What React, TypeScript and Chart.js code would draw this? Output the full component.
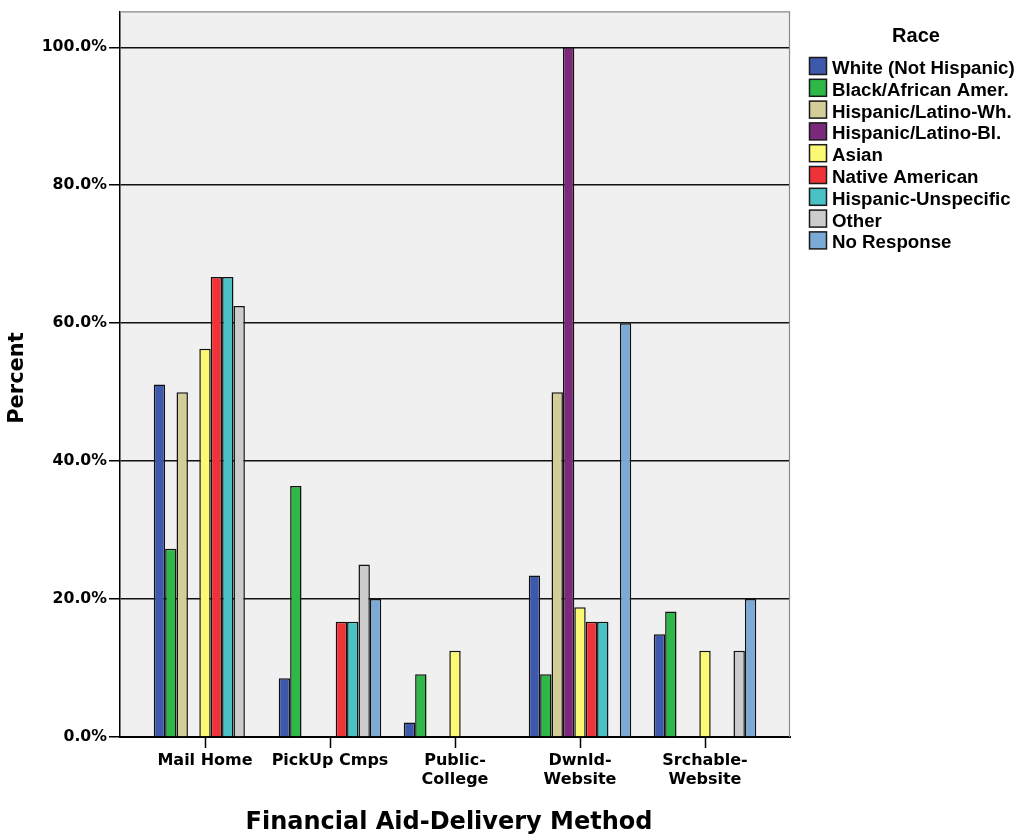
import React, { useEffect, useRef } from 'react';
import { Chart, registerables } from 'chart.js';

Chart.register(...registerables);

// ---- Data ----
const categories: (string | string[])[] = [
  'Mail Home',
  'PickUp Cmps',
  ['Public-', 'College'],
  ['Dwnld-', 'Website'],
  ['Srchable-', 'Website'],
];

const raceLabels = [
  'White (Not Hispanic)',
  'Black/African Amer.',
  'Hispanic/Latino-Wh.',
  'Hispanic/Latino-Bl.',
  'Asian',
  'Native American',
  'Hispanic-Unspecific',
  'Other',
  'No Response',
];

const raceColors = [
  '#3e58ac',
  '#2eb848',
  '#d3ce97',
  '#7b2a7b',
  '#fbf873',
  '#ef3338',
  '#48c2c5',
  '#cccccc',
  '#7caad6',
];

const white = [51.1, 8.5, 2.1, 23.4, 14.9];
const blackAfr = [27.3, 36.4, 9.1, 9.1, 18.2];
const hispWh = [50.0, 0, 0, 50.0, 0];
const hispBl = [0, 0, 0, 100.0, 0];
const asian = [56.3, 0, 12.5, 18.8, 12.5];
const nativeAm = [66.7, 16.7, 0, 16.7, 0];
const hispUnspec = [66.7, 16.7, 0, 16.7, 0];
const other = [62.5, 25.0, 0, 0, 12.5];
const noResponse = [0, 20.0, 0, 60.0, 20.0];

const seriesValues = [white, blackAfr, hispWh, hispBl, asian, nativeAm, hispUnspec, other, noResponse];

const yTicks = [0, 20, 40, 60, 80, 100];

const yTitle = 'Percent';
const xTitle = 'Financial Aid-Delivery Method';
const legendTitle = 'Race';

const AXIS_FONT = '"DejaVu Sans", sans-serif';
const LEGEND_FONT = '"Liberation Sans", Arial, sans-serif';

const decorPlugin = {
  id: 'decor',
  beforeDraw(chart: any) {
    const { ctx, chartArea: a } = chart;
    ctx.save();
    ctx.fillStyle = '#f0f0f0';
    ctx.fillRect(a.left, a.top, a.right - a.left, a.bottom - a.top);
    ctx.restore();
  },
  afterDraw(chart: any) {
    const { ctx, chartArea: a } = chart;
    ctx.save();
    // frame: top and right in gray
    ctx.strokeStyle = '#8a8a8a';
    ctx.lineWidth = 1.2;
    ctx.beginPath();
    ctx.moveTo(a.left, a.top + 0.5);
    ctx.lineTo(a.right - 0.5, a.top + 0.5);
    ctx.lineTo(a.right - 0.5, a.bottom);
    ctx.stroke();

    // y title
    ctx.fillStyle = '#000';
    ctx.font = `bold 21px ${AXIS_FONT}`;
    ctx.textAlign = 'center';
    ctx.textBaseline = 'middle';
    ctx.save();
    ctx.translate(18, 378);
    ctx.rotate(-Math.PI / 2);
    ctx.fillText(yTitle, 0, 0);
    ctx.restore();

    // x title
    ctx.font = `bold 24px ${AXIS_FONT}`;
    ctx.textBaseline = 'alphabetic';
    ctx.fillText(xTitle, 449, 829);

    // legend
    ctx.font = `bold 20px ${LEGEND_FONT}`;
    ctx.textAlign = 'center';
    ctx.fillText(legendTitle, 916, 42);
    ctx.textAlign = 'left';
    ctx.font = `bold 18.7px ${LEGEND_FONT}`;
    const step = 21.8;
    raceLabels.forEach((lab, i) => {
      const top = 57.5 + i * step;
      ctx.fillStyle = raceColors[i];
      ctx.fillRect(809.5, top, 17, 17);
      ctx.strokeStyle = '#1a1a1a';
      ctx.lineWidth = 1.5;
      ctx.strokeRect(809.5, top, 17, 17);
      ctx.fillStyle = '#000';
      ctx.fillText(lab, 832, top + 16.5);
    });
    ctx.restore();
  },
};

export default function App() {
  const ref = useRef<HTMLCanvasElement | null>(null);

  useEffect(() => {
    document.body.style.margin = '0';
    const canvas = ref.current;
    if (!canvas) return;

    const datasets = raceLabels.map((lab, i) => ({
      label: lab,
      data: seriesValues[i].map((v, j) => ({ x: j, y: v })),
      backgroundColor: raceColors[i],
      borderColor: '#111111',
      borderWidth: 1.5,
      categoryPercentage: 0.82,
      barPercentage: 1.0,
    }));

    const chart = new Chart(canvas, {
      type: 'bar',
      data: { datasets } as any,
      plugins: [decorPlugin],
      options: {
        animation: false,
        responsive: false,
        devicePixelRatio: 1,
        layout: { padding: { top: 10, right: 231, left: 0, bottom: 0 } },
        plugins: {
          legend: { display: false },
          tooltip: { enabled: false },
          title: { display: false },
        },
        scales: {
          x: {
            type: 'linear',
            min: -0.68,
            max: 4.68,
            offset: false,
            afterBuildTicks: (scale: any) => {
              scale.ticks = categories.map((_, i) => ({ value: i }));
            },
            afterFit: (scale: any) => {
              scale.height = 101;
            },
            grid: {
              display: true,
              drawOnChartArea: false,
              drawTicks: true,
              tickLength: 11,
              tickColor: '#000',
              tickWidth: 1.5,
              offset: false,
            },
            border: { display: true, color: '#000', width: 2 },
            ticks: {
              autoSkip: false,
              maxRotation: 0,
              minRotation: 0,
              padding: 4,
              color: '#000',
              font: { family: AXIS_FONT, weight: 'bold', size: 16, lineHeight: 1.15 },
              callback: (v: any) => categories[Math.round(Number(v))] as any,
            },
          },
          y: {
            type: 'linear',
            min: 0,
            max: 105.2,
            afterBuildTicks: (scale: any) => {
              scale.ticks = yTicks.map((v) => ({ value: v }));
            },
            afterFit: (scale: any) => {
              scale.width = 120;
            },
            grid: {
              display: true,
              drawOnChartArea: true,
              drawTicks: true,
              tickLength: 11,
              color: '#111111',
              lineWidth: 1.5,
              tickColor: '#000',
              tickWidth: 1.5,
            },
            border: { display: true, color: '#000', width: 1.5 },
            ticks: {
              padding: 2,
              color: '#000',
              font: { family: AXIS_FONT, weight: 'bold', size: 15.7 },
              callback: (v: any) => Number(v).toFixed(1) + '%',
            },
          },
        },
      } as any,
    });

    return () => chart.destroy();
  }, []);

  return (
    <div style={{ width: 1021, height: 838 }}>
      <canvas ref={ref} width={1021} height={838} style={{ display: 'block' }} />
    </div>
  );
}
